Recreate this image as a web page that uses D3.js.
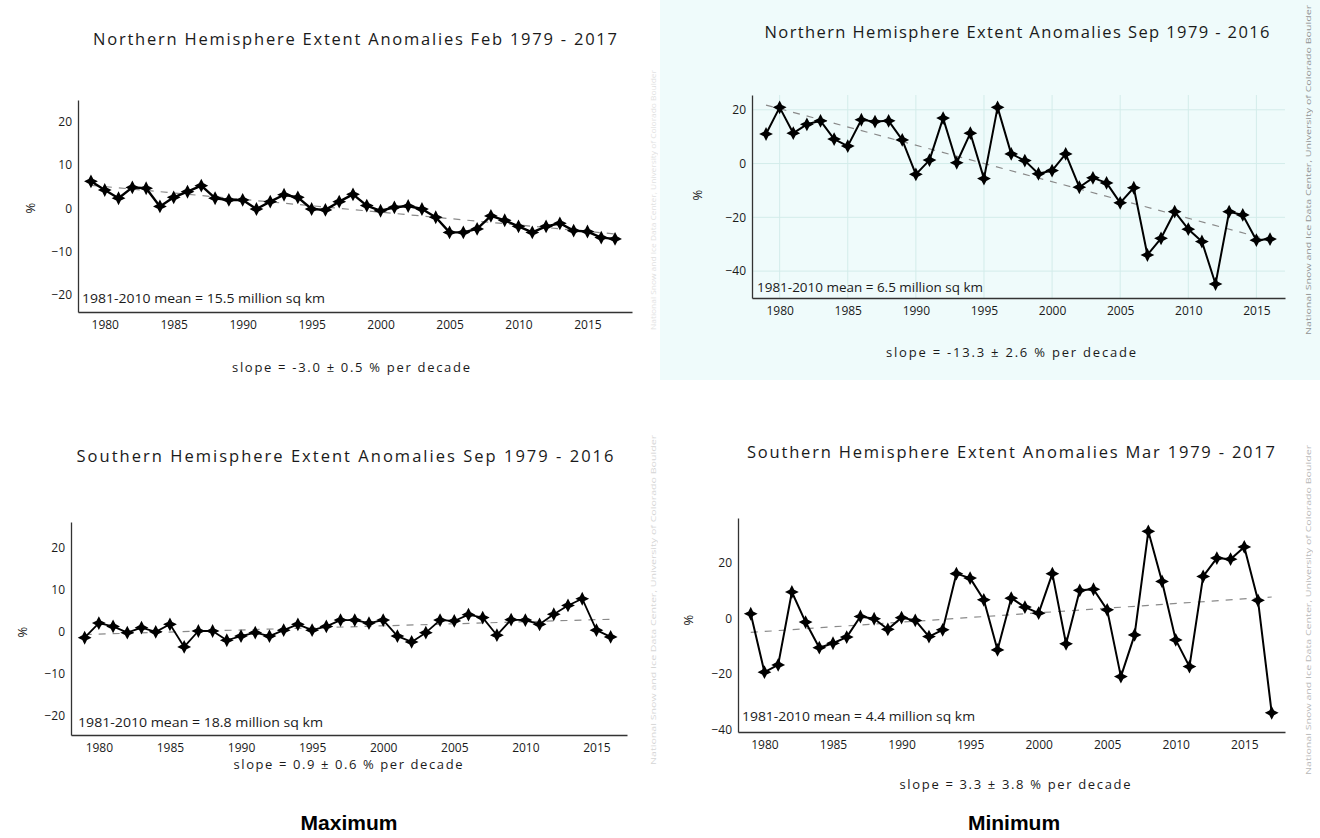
<!DOCTYPE html>
<html lang="en">
<head>
<meta charset="utf-8">
<title>Sea ice extent anomalies - maximum and minimum</title>
<style>
    body { margin: 0; background: #fff; }
    svg { display: block; font-family: 'Open Sans', 'DejaVu Sans', sans-serif; }
    .title { font-size: 16.5px; fill: #1a1a1a; text-anchor: middle; }
    .slope { font-size: 13px; fill: #1a1a1a; text-anchor: middle; }
    .mean { font-size: 12.5px; fill: #1a1a1a; }
    .pct { font-size: 13px; fill: #1a1a1a; text-anchor: middle; }
    .tick text { font-size: 12px; fill: #1a1a1a; font-family: 'Open Sans', sans-serif; }
    .domain { stroke: #333; stroke-width: 1.3px; }
    .credit { font-size: 8px; fill: #888; }
    .big { font-family: 'Liberation Sans', Arial, sans-serif; font-weight: bold; font-size: 21px; fill: #000; text-anchor: middle; }
</style>
</head>
<body>
<script src="https://cdn.jsdelivr.net/npm/d3@7"></script>
<script>
    // anomaly values (%)
    let nhFebYears = d3.range(1979, 2018);
    let nhFebValues = [6.2, 4.2, 2.3, 4.8, 4.6, 0.4, 2.5, 3.8, 5.2, 2.3, 1.9, 1.9, -0.2, 1.5, 3.1, 2.5, -0.2, -0.4,
        1.5, 3.2, 0.6, -0.6, 0.2, 0.5, -0.2, -2.1, -5.6, -5.6, -4.8, -1.8, -2.8, -4.2, -5.6, -4.2, -3.5, -5.2, -5.4, -6.8, -7.1];

    let nhSepYears = d3.range(1979, 2017);
    let nhSepValues = [11, 20.9, 11.3, 14.6, 15.9, 9.1, 6.5, 16.3, 15.6, 15.9, 8.8, -4, 1.3, 16.9, 0.3, 11.3, -5.6,
        20.9, 3.6, 1.1, -3.8, -2.6, 3.6, -8.8, -5.3, -7.2, -14.6, -9.0, -34, -27.8, -17.9, -24.4, -29, -44.8, -17.9, -19.1, -28.5, -28.1];

    let shSepYears = d3.range(1979, 2017);
    let shSepValues = [-1.4, 2.1, 1.3, -0.2, 1.0, 0, 1.8, -3.6, 0.2, 0.2, -2.0, -1.0, -0.2, -1.0, 0.4, 1.8, 0.4, 1.3,
        2.8, 2.8, 2.1, 2.8, -1.0, -2.4, -0.2, 2.8, 2.6, 4.1, 3.4, -0.8, 2.9, 2.8, 1.8, 4.2, 6.3, 7.9, 0.4, -1.2];

    let shMarYears = d3.range(1979, 2018);
    let shMarValues = [1.6, -19.4, -16.8, 9.4, -1.4, -10.6, -9.0, -6.8, 0.6, -0.2, -4.0, 0.2, -0.8, -6.6, -4.2, 16.0, 14.4, 6.6,
        -11.4, 7.2, 4.0, 1.8, 16.0, -9.2, 10.0, 10.4, 3.0, -21, -6.0, 31.2, 13.2, -7.8, -17.4, 15.0, 21.6, 21.2, 25.6, 6.4, -34];

    let xTickYears = [1980, 1985, 1990, 1995, 2000, 2005, 2010, 2015];
    let yTicksMax = [-20, -10, 0, 10, 20];
    let yTicksMin = [-40, -20, 0, 20];

    let titles = ["Northern Hemisphere Extent Anomalies Feb 1979 - 2017",
        "Northern Hemisphere Extent Anomalies Sep 1979 - 2016",
        "Southern Hemisphere Extent Anomalies Sep 1979 - 2016",
        "Southern Hemisphere Extent Anomalies Mar 1979 - 2017"];
    let slopeLabels = ["slope = -3.0 \u00b1 0.5 % per decade",
        "slope = -13.3 \u00b1 2.6 % per decade",
        "slope = 0.9 \u00b1 0.6 % per decade",
        "slope = 3.3 \u00b1 3.8 % per decade"];
    let meanLabels = ["1981-2010 mean = 15.5 million sq km",
        "1981-2010 mean = 6.5 million sq km",
        "1981-2010 mean = 18.8 million sq km",
        "1981-2010 mean = 4.4 million sq km"];
    let creditText = "National Snow and Ice Data Center, University of Colorado Boulder";

    let width = 1320, height = 838;

    let svg = d3.select("body").append("svg")
        .attr("width", width)
        .attr("height", height);

    // light cyan backdrop behind the NH September chart
    svg.append("rect")
        .attr("x", 660).attr("y", 0)
        .attr("width", 660).attr("height", 380)
        .attr("fill", "#effbfb");

    // layout of the four panels
    let panels = [
        {years: nhFebYears, values: nhFebValues, yTicks: yTicksMax,
            left: 78, right: 632, top: 100, bottom: 312, xDom: [1978.06, 2018.23], yDom: [-24, 25],
            titleX: 355, titleY: 45, titleW: 524, slopeX: 351, slopeY: 372, slopeW: 238,
            meanX: 82, meanY: 303, meanW: 243, pctX: 30, pctY: 208, grid: false, lineW: 2.4},
        {years: nhSepYears, values: nhSepValues, yTicks: yTicksMin,
            left: 752, right: 1285, top: 95, bottom: 298, xDom: [1977.97, 2017.1], yDom: [-50, 25.5],
            titleX: 1017, titleY: 38, titleW: 505, slopeX: 1011, slopeY: 357, slopeW: 250,
            meanX: 757, meanY: 292, meanW: 226, pctX: 697, pctY: 195, grid: true, lineW: 2},
        {years: shSepYears, values: shSepValues, yTicks: yTicksMax,
            left: 71, right: 627, top: 522, bottom: 735, xDom: [1978.04, 2017.15], yDom: [-24.6, 26.2],
            titleX: 345, titleY: 462, titleW: 537, slopeX: 348, slopeY: 769, slopeW: 229,
            meanX: 78, meanY: 727, meanW: 245, pctX: 22, pctY: 632, grid: false, lineW: 1.8},
        {years: shMarYears, values: shMarValues, yTicks: yTicksMin,
            left: 738, right: 1285, top: 518, bottom: 732, xDom: [1978.07, 2017.97], yDom: [-40.9, 36],
            titleX: 1011, titleY: 458, titleW: 528, slopeX: 1015, slopeY: 789, slopeW: 231,
            meanX: 742, meanY: 721, meanW: 233, pctX: 688, pctY: 620, grid: false, lineW: 2}
    ];

    // four pointed star marker
    let star4 = {
        draw: function(context, size) {
            let r = Math.sqrt(size) * 0.75, q = r * 0.34;
            context.moveTo(0, -r);
            context.lineTo(q, -q);
            context.lineTo(r, 0);
            context.lineTo(q, q);
            context.lineTo(0, r);
            context.lineTo(-q, q);
            context.lineTo(-r, 0);
            context.lineTo(-q, -q);
            context.closePath();
        }
    };

    function linearFit(xs, ys) {
        let mx = d3.mean(xs), my = d3.mean(ys);
        let sxy = d3.sum(xs, function(x, i) { return (x - mx) * (ys[i] - my); });
        let sxx = d3.sum(xs, function(x) { return (x - mx) * (x - mx); });
        let b = sxy / sxx;
        return function(x) { return my + b * (x - mx); };
    }

    panels.forEach(function(p, i) {
        let x = d3.scaleLinear().domain(p.xDom).range([p.left, p.right]);
        let y = d3.scaleLinear().domain(p.yDom).range([p.bottom, p.top]);
        let g = svg.append("g");

        if (p.grid) {
            g.append("g").selectAll("line")
                .data(xTickYears).enter().append("line")
                .attr("x1", function(d) { return x(d); }).attr("x2", function(d) { return x(d); })
                .attr("y1", p.top).attr("y2", p.bottom)
                .attr("stroke", "#d3ecea").attr("stroke-width", 1);
            g.append("g").selectAll("line")
                .data(p.yTicks).enter().append("line")
                .attr("x1", p.left).attr("x2", p.right)
                .attr("y1", function(d) { return y(d); }).attr("y2", function(d) { return y(d); })
                .attr("stroke", "#d3ecea").attr("stroke-width", 1);
        }

        g.append("g")
            .attr("transform", "translate(0," + p.bottom + ")")
            .call(d3.axisBottom(x).tickValues(xTickYears).tickFormat(d3.format("d")).tickSize(0).tickPadding(8));
        g.append("g")
            .attr("transform", "translate(" + p.left + ",0)")
            .call(d3.axisLeft(y).tickValues(p.yTicks).tickSize(0).tickPadding(6));

        // trend line
        let fit = linearFit(p.years, p.values);
        let y0 = p.years[0], y1 = p.years[p.years.length - 1];
        g.append("line")
            .attr("x1", x(y0)).attr("y1", y(fit(y0)))
            .attr("x2", x(y1)).attr("y2", y(fit(y1)))
            .attr("stroke", "#8a8a8a").attr("stroke-width", 1.2)
            .attr("stroke-dasharray", "7,7");

        let line = d3.line()
            .x(function(d, k) { return x(p.years[k]); })
            .y(function(d) { return y(d); });
        g.append("path")
            .datum(p.values)
            .attr("d", line)
            .attr("fill", "none")
            .attr("stroke", "#000")
            .attr("stroke-width", p.lineW)
            .attr("stroke-linejoin", "round");

        g.append("g").selectAll("path")
            .data(p.values).enter().append("path")
            .attr("d", d3.symbol().type(star4).size(85))
            .attr("transform", function(d, k) { return "translate(" + x(p.years[k]) + "," + y(d) + ")"; })
            .attr("fill", "#000");

        g.append("text").attr("class", "title")
            .attr("x", p.titleX).attr("y", p.titleY)
            .attr("textLength", p.titleW).attr("lengthAdjust", "spacing")
            .text(titles[i]);
        g.append("text").attr("class", "slope")
            .attr("x", p.slopeX).attr("y", p.slopeY)
            .attr("textLength", p.slopeW).attr("lengthAdjust", "spacing")
            .text(slopeLabels[i]);
        g.append("text").attr("class", "mean")
            .attr("x", p.meanX).attr("y", p.meanY)
            .attr("textLength", p.meanW).attr("lengthAdjust", "spacingAndGlyphs")
            .text(meanLabels[i]);
        g.append("text").attr("class", "pct")
            .attr("transform", "translate(" + p.pctX + "," + p.pctY + ") rotate(-90)")
            .attr("dy", "0.35em")
            .text("%");
    });

    // faint credit lines running up the side of the charts
    [[1311, 170, 330, 0.9], [1311, 610, 330, 0.6], [656, 600, 330, 0.35], [656, 200, 260, 0.25]].forEach(function(c) {
        svg.append("text").attr("class", "credit")
            .attr("transform", "translate(" + c[0] + "," + c[1] + ") rotate(-90)")
            .attr("text-anchor", "middle")
            .attr("textLength", c[2]).attr("lengthAdjust", "spacingAndGlyphs")
            .style("opacity", c[3])
            .text(creditText);
    });

    svg.append("text").attr("class", "big").attr("x", 349).attr("y", 830).text("Maximum");
    svg.append("text").attr("class", "big").attr("x", 1014).attr("y", 830).text("Minimum");
</script>
</body>
</html>
